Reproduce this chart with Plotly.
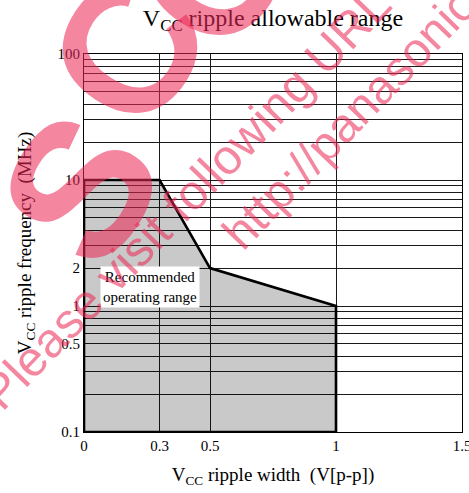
import math
import plotly.graph_objects as go

SERIF = "Liberation Serif, Times New Roman, serif"
SANS = "Liberation Sans, Arial, sans-serif"
INK = "#000000"
GRID = "#1a1a1a"
SHADE = "rgba(0,0,0,0.21)"
MARK = "rgba(236,40,86,0.56)"

# recommended operating range outline (closed polygon)
ripple_width = [0, 0, 0.3, 0.5, 1, 1, 0]
ripple_freq = [0.1, 10, 10, 2, 1, 0.1, 0.1]

x_ticks = [0, 0.3, 0.5, 1, 1.5]
x_labels = ["0", "0.3", "0.5", "1", "1.5"]

y_ticks = [0.1, 0.2, 0.3, 0.4, 0.5, 0.6, 0.7, 0.8, 0.9,
           1, 2, 3, 4, 5, 6, 7, 8, 9,
           10, 20, 30, 40, 50, 60, 70, 80, 90, 100]
y_labels = ["0.1", "", "", "", "0.5", "", "", "", "",
            "1", "2", "", "", "", "", "", "", "",
            "10", "", "", "", "", "", "", "", "", "100"]

W, H = 469, 493
L, R, T, B = 84, 7, 54, 61


def px(x, y):
    # pixel position on the page -> paper coords
    return (x - L) / (W - L - R), (H - B - y) / (H - T - B)


fig = go.Figure()
fig.add_trace(
    go.Scatter(
        x=ripple_width,
        y=ripple_freq,
        mode="lines",
        fill="toself",
        fillcolor=SHADE,
        line=dict(color=INK, width=2.6),
        hoverinfo="skip",
    )
)

fig.add_annotation(
    x=0.26, y=math.log10(1.41), xref="x", yref="y",
    text="Recommended<br>operating range",
    showarrow=False, bgcolor="#ffffff", borderpad=2,
    font=dict(family=SERIF, size=15, color=INK),
)

# watermark
marks = [
    ("S", 80, 188, 192, -57, "bold"),
    ("C", 128, 50, 185, -57, "bold"),
    ("O", 215, -32, 185, -57, "bold"),
    ("Please visit following URL", 186, 198, 49, -46, "normal"),
    ("http://panasonic.net", 376, 90, 48, -46, "normal"),
]
for txt, mx, my, size, ang, wt in marks:
    ax, ay = px(mx, my)
    fig.add_annotation(
        x=ax, y=ay, xref="paper", yref="paper", text=txt, showarrow=False,
        textangle=ang, xanchor="center", yanchor="middle",
        font=dict(family=SANS, size=size, color=MARK, weight=wt),
    )

fig.update_xaxes(
    range=[0, 1.5], tickvals=x_ticks, ticktext=x_labels,
    showgrid=True, gridcolor=GRID, gridwidth=1, zeroline=False,
    showline=True, mirror=True, linecolor=INK, linewidth=1,
    ticks="", ticklabeloverflow="allow", automargin=False,
    tickfont=dict(family=SERIF, size=15, color=INK),
    title=dict(text="V<sub>CC</sub> ripple width  (V[p-p])", standoff=14,
               font=dict(family=SERIF, size=19, color=INK)),
)
fig.update_yaxes(
    type="log", range=[-1, 2], tickvals=y_ticks, ticktext=y_labels,
    showgrid=True, gridcolor=GRID, gridwidth=1, zeroline=False,
    showline=True, mirror=True, linecolor=INK, linewidth=1,
    ticks="", automargin=False,
    tickfont=dict(family=SERIF, size=15, color=INK),
    title=dict(text="V<sub>CC</sub> ripple frequency  (MHz)", standoff=20,
               font=dict(family=SERIF, size=19, color=INK)),
)
fig.update_layout(
    width=W, height=H,
    title=dict(text="V<sub>CC</sub> ripple allowable range", x=(L + (W - L - R) / 2) / W,
               xanchor="center", y=1 - 18 / H, yanchor="middle",
               font=dict(family=SERIF, size=24, color=INK)),
    paper_bgcolor="#ffffff", plot_bgcolor="#ffffff",
    margin=dict(l=L, r=R, t=T, b=B),
    showlegend=False,
)

fig.write_html("out.html", config={"displayModeBar": False},
               post_script="document.body.style.margin='0';")
